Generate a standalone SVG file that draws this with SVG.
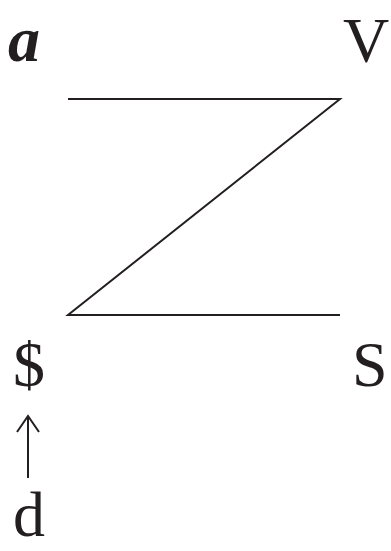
<svg xmlns="http://www.w3.org/2000/svg" width="391" height="551" viewBox="0 0 391 551">
<style>
.t{font-family:"Liberation Serif","Times New Roman",serif;font-size:64px;fill:#231f20}
.l{stroke:#231f20;stroke-width:2;fill:none}
</style>
<rect width="391" height="551" fill="#fff"/>
<g id="connectors">
<path class="l" d="M68 99 H340 L68 315 H340"/>
<path class="l" d="M28 478 V416 M17 432 L28 416 L39 432"/>
</g>
<g id="a"><text class="t" x="8" y="61" font-style="italic" font-weight="bold">a</text></g>
<g id="V"><text class="t" x="343" y="62">V</text></g>
<g id="dollar"><text class="t" x="13" y="386">$</text></g>
<g id="S"><text class="t" x="352" y="386">S</text></g>
<g id="d"><text class="t" x="13" y="536">d</text></g>
</svg>
